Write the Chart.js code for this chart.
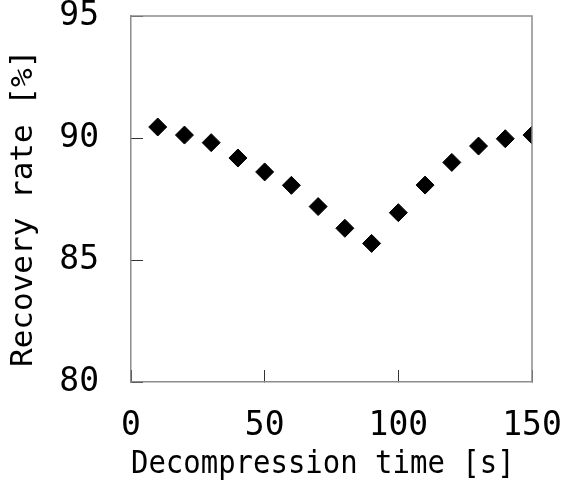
<!DOCTYPE html>
<html>
<head>
<meta charset="utf-8">
<script src="https://cdn.jsdelivr.net/npm/chart.js@4"></script>
<style>
  html, body { margin: 0; padding: 0; background: #fff; }
  #wrap { width: 562px; height: 484px; }
</style>
</head>
<body>
<div id="wrap"><canvas id="c" width="562" height="484"></canvas></div>
<script>
// Decompression time (s) and measured recovery rate (%)
const decompressionTime = [10, 20, 30, 40, 50, 60, 70, 80, 90, 100, 110, 120, 130, 140, 150];
const recoveryRate = [90.45, 90.12, 89.81, 89.18, 88.61, 88.06, 87.19, 86.30, 85.68, 86.94, 88.07, 89.00, 89.67, 89.97, 90.12];
const xTicks = [0, 50, 100, 150];
const yTicks = [80, 85, 90, 95];

const FONT = "'DejaVu Sans Mono', monospace";
const FRAME = '#8c8c8c';

// Thin gray frame around the plot area (top and right sides)
const frame = {
  id: 'frame',
  afterDatasetsDraw(chart) {
    const { ctx, chartArea: a } = chart;
    ctx.save();
    ctx.strokeStyle = FRAME;
    ctx.lineWidth = 1.5;
    ctx.beginPath();
    ctx.moveTo(a.left, a.top);
    ctx.lineTo(a.right, a.top);
    ctx.lineTo(a.right, a.bottom);
    ctx.stroke();
    ctx.restore();
  }
};

function noPad(s) {
  s.paddingTop = 0; s.paddingBottom = 0; s.paddingLeft = 0; s.paddingRight = 0;
}

new Chart(document.getElementById('c'), {
  type: 'scatter',
  data: {
    datasets: [{
      data: decompressionTime.map((t, i) => ({ x: t, y: recoveryRate[i] })),
      pointStyle: 'rectRot',
      pointRadius: 9,
      pointHoverRadius: 9,
      backgroundColor: '#000',
      borderColor: '#000',
      borderWidth: 1
    }]
  },
  options: {
    responsive: false,
    animation: false,
    events: [],
    layout: { padding: { left: 0, right: 30, top: 16, bottom: 0 } },
    plugins: { legend: { display: false }, tooltip: { enabled: false } },
    scales: {
      x: {
        type: 'linear',
        min: 0, max: 150,
        afterBuildTicks(s) { s.ticks = xTicks.map(v => ({ value: v })); },
        afterFit(s) { s.height = 102; noPad(s); },
        border: { color: FRAME, width: 1.5 },
        grid: { drawOnChartArea: false, tickLength: -12, color: '#333', tickWidth: 1 },
        ticks: { color: '#000', padding: 37, maxRotation: 0, font: { family: FONT, size: 33 } },
        title: { display: true, text: 'Decompression time [s] ', color: '#000',
                 font: { family: FONT, size: 32.5 }, padding: { top: 0, bottom: 0 } }
      },
      y: {
        type: 'linear',
        min: 80, max: 95,
        afterBuildTicks(s) { s.ticks = yTicks.map(v => ({ value: v })); },
        afterFit(s) { s.width = 131; noPad(s); },
        border: { color: FRAME, width: 1.5 },
        grid: { drawOnChartArea: false, tickLength: -12, color: '#333', tickWidth: 1 },
        ticks: { color: '#000', padding: 44, font: { family: FONT, size: 33 } },
        title: { display: true, text: 'Recovery rate [%] ', color: '#000',
                 font: { family: FONT, size: 31 }, padding: { top: 5, bottom: 0 } }
      }
    }
  },
  plugins: [frame]
});
</script>
</body>
</html>
